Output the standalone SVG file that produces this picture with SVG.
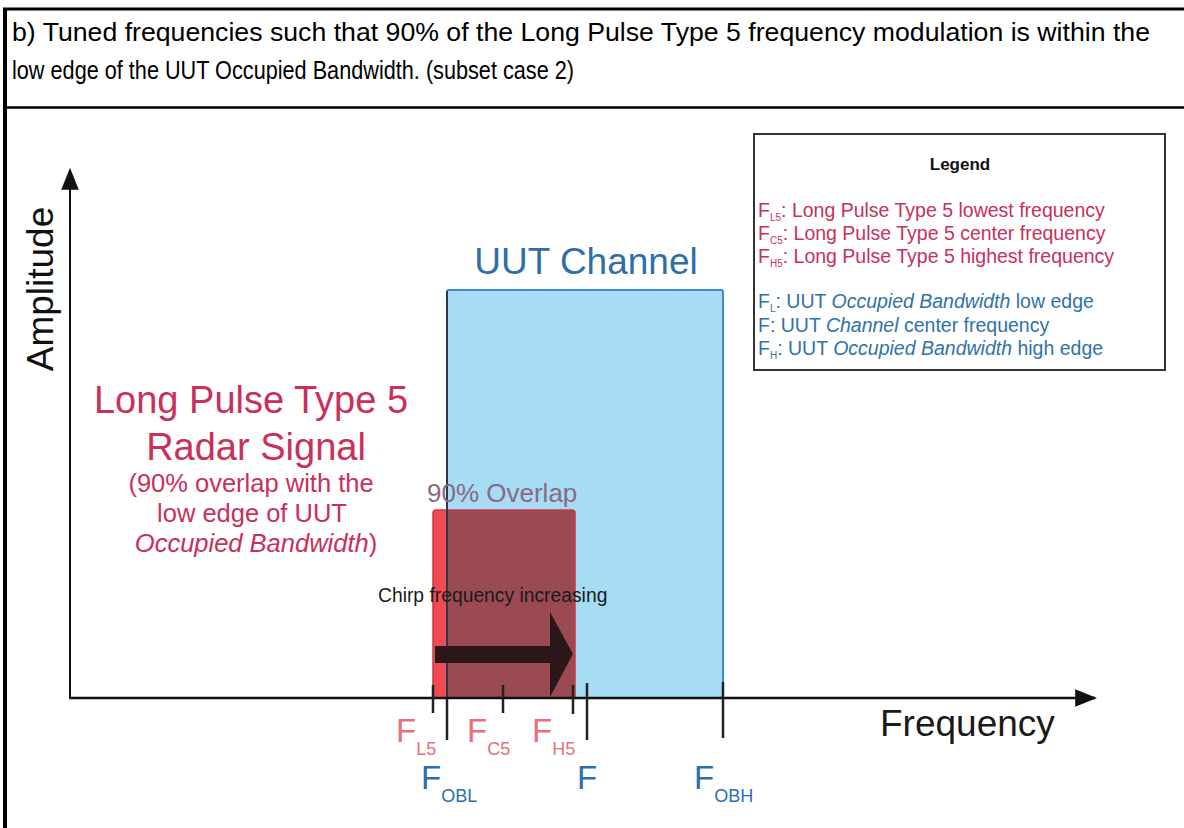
<svg xmlns="http://www.w3.org/2000/svg" width="1184" height="828" viewBox="0 0 1184 828">
<defs>
<style>
text{font-family:"Liberation Sans",Arial,sans-serif}
.hdr{font-size:25px;fill:#000}
.tick{stroke:#222;stroke-width:2.5}
.lr{fill:#c9305a;font-size:19.5px}
.lb{fill:#2f72aa;font-size:19.5px}
.sub{font-size:10px}
.fr{fill:#e7707a;font-size:33px}
.fb{fill:#2b6fb0;font-size:33px}
.fs{font-size:18px}
.sig{fill:#c9305a;text-anchor:middle}
</style>
<marker id="ah" viewBox="0 0 10 10" refX="9" refY="5" markerWidth="22" markerHeight="22" markerUnits="userSpaceOnUse" orient="auto">
<path d="M0,1 L10,5 L0,9 Z" fill="#111"/>
</marker>
</defs>
<rect x="0" y="0" width="1184" height="828" fill="#fff"/>
<g id="table">
<line x1="3" y1="9" x2="1184" y2="9" stroke="#000" stroke-width="3"/>
<line x1="3" y1="107.5" x2="1184" y2="107.5" stroke="#000" stroke-width="2.5"/>
<line x1="5" y1="8" x2="5" y2="828" stroke="#000" stroke-width="4"/>
<text class="hdr" x="12" y="41" textLength="1138" lengthAdjust="spacingAndGlyphs">b) Tuned frequencies such that 90% of the Long Pulse Type 5 frequency modulation is within the</text>
<text class="hdr" x="12" y="79" textLength="562" lengthAdjust="spacingAndGlyphs">low edge of the UUT Occupied Bandwidth. (subset case 2)</text>
</g>
<g id="uut-channel">
<rect x="447" y="290" width="276" height="408" rx="2" fill="#a6dcf4" stroke="#3d8ad0" stroke-width="2"/>
<text x="586" y="274" font-size="37" fill="#2f6ea8" text-anchor="middle">UUT Channel</text>
</g>
<g id="pulse">
<path d="M433,698 V513 Q433,510 436,510 H447 V698 Z" fill="#f04b50"/>
<path d="M447,698 V510 H572 Q575,510 575,513 V698 Z" fill="#9b4a52"/>
<path d="M433,698 V513 Q433,510 436,510 H572 Q575,510 575,513 V698" fill="none" stroke="#c83848" stroke-width="1.5"/>
<line x1="447" y1="291" x2="447" y2="698" stroke="#2a3a4a" stroke-width="2"/>
<text x="427" y="502" font-size="26" fill="#8a6a82">90% Overlap</text>
</g>
<g id="chirp">
<path d="M435,646 H550 V612 L573,654 L550,697 V663 H435 Z" fill="#2b1719"/>
<text x="378" y="602" font-size="19.3" fill="#1a1a1a">Chirp frequency increasing</text>
</g>
<g id="signal-label">
<text class="sig" x="251" y="413" font-size="38">Long Pulse Type 5</text>
<text class="sig" x="256" y="460" font-size="38">Radar Signal</text>
<text class="sig" x="251" y="492" font-size="25.5">(90% overlap with the</text>
<text class="sig" x="252" y="522" font-size="25.5">low edge of UUT</text>
<text class="sig" x="256" y="552" font-size="25.5"><tspan font-style="italic">Occupied Bandwidth</tspan>)</text>
</g>
<g id="legend">
<rect x="754" y="134" width="411" height="236" fill="#fff" stroke="#333" stroke-width="2"/>
<text x="960" y="170" font-size="17" font-weight="bold" fill="#111" text-anchor="middle">Legend</text>
<text class="lr" x="758" y="217">F<tspan class="sub" dy="4">L5</tspan><tspan dy="-4">: Long Pulse Type 5 lowest frequency</tspan></text>
<text class="lr" x="758" y="240">F<tspan class="sub" dy="4">C5</tspan><tspan dy="-4">: Long Pulse Type 5 center frequency</tspan></text>
<text class="lr" x="758" y="263">F<tspan class="sub" dy="4">H5</tspan><tspan dy="-4">: Long Pulse Type 5 highest frequency</tspan></text>
<text class="lb" x="758" y="308">F<tspan class="sub" dy="4">L</tspan><tspan dy="-4">: UUT <tspan font-style="italic">Occupied Bandwidth</tspan> low edge</tspan></text>
<text class="lb" x="758" y="332">F: UUT <tspan font-style="italic">Channel</tspan> center frequency</text>
<text class="lb" x="758" y="355">F<tspan class="sub" dy="4">H</tspan><tspan dy="-4">: UUT <tspan font-style="italic">Occupied Bandwidth</tspan> high edge</tspan></text>
</g>
<g id="axes">
<line x1="70" y1="698" x2="70" y2="170" stroke="#111" stroke-width="2" marker-end="url(#ah)"/>
<line x1="69" y1="698" x2="1095" y2="698" stroke="#111" stroke-width="2.5" marker-end="url(#ah)"/>
<text x="53" y="289" font-size="37" fill="#111" text-anchor="middle" transform="rotate(-90 53 289)">Amplitude</text>
<text x="880" y="736" font-size="37" fill="#1a1a1a">Frequency</text>
</g>
<g id="ticks">
<line class="tick" x1="433" y1="685" x2="433" y2="713"/>
<line class="tick" x1="447" y1="698" x2="447" y2="740"/>
<line class="tick" x1="503" y1="685" x2="503" y2="713"/>
<line class="tick" x1="573" y1="685" x2="573" y2="714"/>
<line class="tick" x1="587" y1="683" x2="587" y2="740"/>
<line class="tick" x1="723" y1="682" x2="723" y2="738"/>
</g>
<g id="freq-labels">
<text class="fr" x="396" y="742">F<tspan class="fs" dy="13">L5</tspan></text>
<text class="fr" x="467" y="742">F<tspan class="fs" dy="13">C5</tspan></text>
<text class="fr" x="532" y="742">F<tspan class="fs" dy="13">H5</tspan></text>
<text class="fb" x="421" y="789">F<tspan class="fs" dy="13">OBL</tspan></text>
<text class="fb" x="577" y="789">F</text>
<text class="fb" x="694" y="789">F<tspan class="fs" dy="13">OBH</tspan></text>
</g>
</svg>
